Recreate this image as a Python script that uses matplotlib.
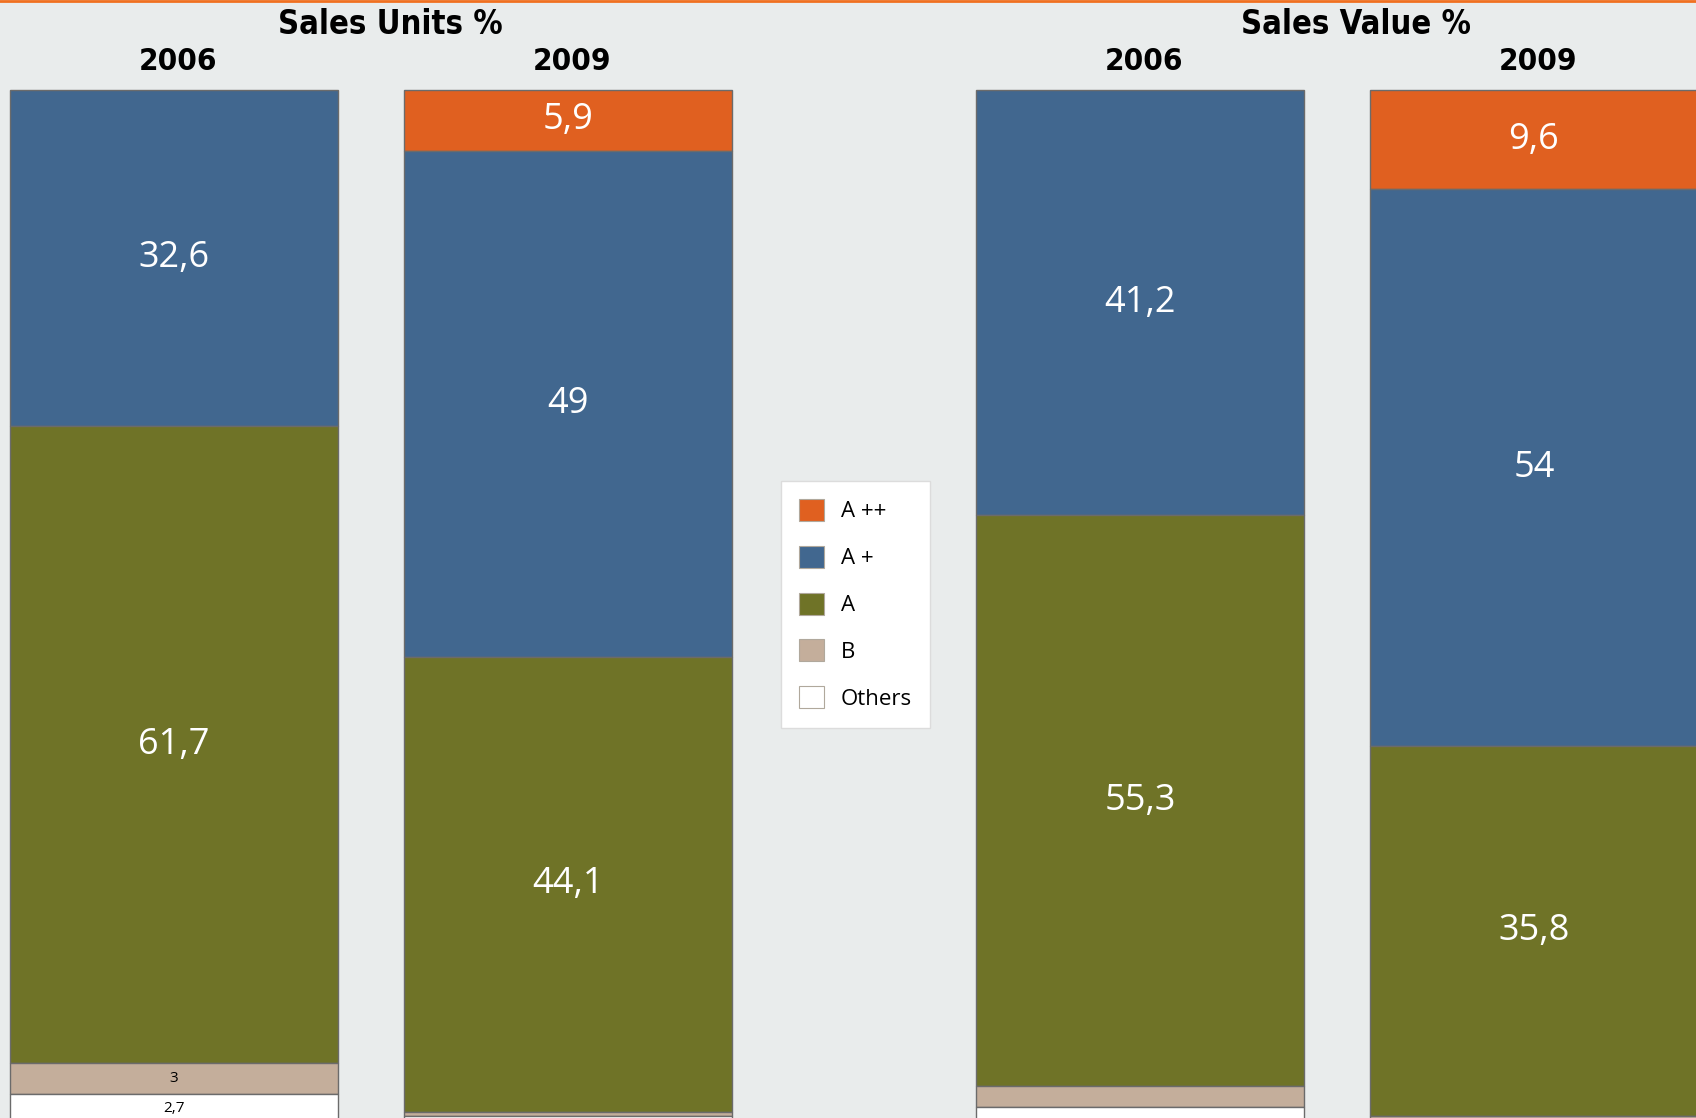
import numpy as np
import matplotlib.pyplot as plt
from matplotlib.patches import Patch
from matplotlib.lines import Line2D

# Share of each energy class, stacked top-down (A++ on top)
classes = ['A ++', 'A +', 'A', 'B', 'Others']
colors = ['#e06020', '#41678f', '#6f7327', '#c4ae9b', '#ffffff']

groups = ['Sales Units %', 'Sales Value %']
years = ['2006', '2009']

units_2006 = [0.0, 32.6, 61.7, 3.0, 2.7]
units_2009 = [5.9, 49.0, 44.1, 0.4, 0.6]
value_2006 = [0.0, 41.2, 55.3, 2.0, 1.5]
value_2009 = [9.6, 54.0, 35.8, 0.3, 0.3]

series = [[units_2006, units_2009], [value_2006, value_2009]]

W, H = 1696, 1118
fig = plt.figure(figsize=(W / 100, H / 100), dpi=100)
bg = '#e9ecec'
fig.patch.set_facecolor(bg)

ax = fig.add_axes([0, 0, 1, 1])
ax.set_facecolor(bg)
ax.axis('off')

# x in pixels, y in percent (0 at the top of the bars, growing downwards)
px_per_pct = 10.32
top_px = 90
ax.set_xlim(0, W)
ax.set_ylim((H - top_px) / px_per_pct, -top_px / px_per_pct)

bar_w = 328
group_left = [10, 976]
bar_step = 394

def y_of_px(p):
    return (p - top_px) / px_per_pct

for g, (gname, left) in enumerate(zip(groups, group_left)):
    centers = [left + bar_w / 2 + i * bar_step for i in range(len(years))]
    for year, cx, vals in zip(years, centers, series[g]):
        bottom = 0.0
        for cls, col, v in zip(classes, colors, vals):
            if v <= 0:
                continue
            ax.bar(cx, v, width=bar_w, bottom=bottom, color=col,
                   edgecolor='#6b6b6b', linewidth=1.0)
            mid = bottom + v / 2
            label = f'{v:g}'.replace('.', ',')
            if v >= 5:
                ax.text(cx, mid, label, ha='center', va='center',
                        color='white', fontsize=26, family='Open Sans')
            elif v >= 2.5:
                ax.text(cx, mid, label, ha='center', va='center',
                        color='black', fontsize=11, family='Open Sans')
            bottom += v
        ax.text(cx + 4, y_of_px(62), year, ha='center', va='center',
                fontsize=22.5, fontweight='bold', fontstretch='condensed',
                family='DejaVu Sans')
    gx = (centers[0] + centers[-1]) / 2 + 19
    ax.text(gx, y_of_px(24), gname, ha='center', va='center',
            fontsize=23.5, fontweight='bold', fontstretch='condensed',
            family='DejaVu Sans')

handles = [Patch(facecolor=c, edgecolor='#b0a89c', linewidth=0.8, label=l)
           for c, l in zip(colors, classes)]
leg = ax.legend(handles=handles, loc='upper left',
                bbox_to_anchor=(781 / W, 1 - 481 / H),
                bbox_transform=fig.transFigure,
                prop={'family': 'Open Sans', 'size': 16},
                handlelength=1.15, handleheight=1.15, handletextpad=0.75,
                labelspacing=1.05, borderpad=0.8, borderaxespad=0,
                fancybox=False, framealpha=1)
leg.get_frame().set_edgecolor('#dcdcdc')
leg.get_frame().set_linewidth(1.0)

# thin orange rule along the top edge
fig.add_artist(Line2D([0, 1], [1 - 1 / H, 1 - 1 / H], transform=fig.transFigure,
                      color='#f07020', linewidth=2))

fig.savefig('out.png', dpi=100, facecolor=bg)
